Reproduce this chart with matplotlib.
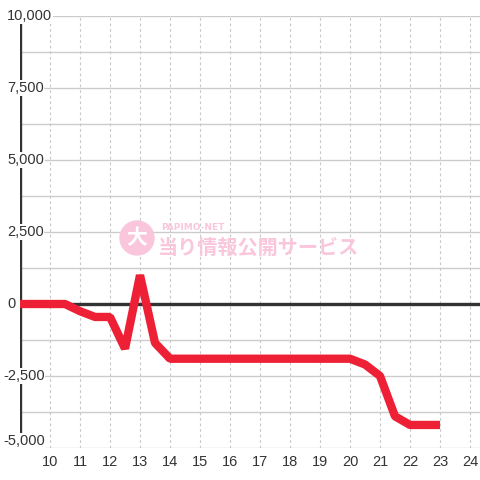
import matplotlib.pyplot as plt
from matplotlib.patches import Circle

hours = [9, 9.5, 10, 10.5, 11, 11.5, 12, 12.5, 13, 13.5, 14, 14.5, 15, 15.5, 16,
         16.5, 17, 17.5, 18, 18.5, 19, 19.5, 20, 20.5, 21, 21.5, 22, 22.5, 23]
balance = [0, 0, 0, 0, -250, -450, -450, -1550, 1000, -1350, -1900, -1900, -1900, -1900, -1900,
           -1900, -1900, -1900, -1900, -1900, -1900, -1900, -1900, -2100, -2500, -3900, -4200, -4200, -4200]

y_ticks = [10000, 7500, 5000, 2500, 0, -2500, -5000]
y_labels = ["10,000", "7,500", "5,000", "2,500", "0", "-2,500", "-5,000"]
x_ticks = list(range(10, 25))

plt.rcParams['font.family'] = ['Liberation Sans', 'DejaVu Sans']

fig = plt.figure(figsize=(4.8, 4.8), dpi=100)
ax = fig.add_axes([20/480, 32/480, 460/480, 432/480])
ax.set_xlim(9, 24.333)
ax.set_ylim(-5000, 10000)

for s in ax.spines.values():
    s.set_visible(False)
ax.set_yticks([])
ax.set_xticks(x_ticks)
ax.set_xticklabels([str(t) for t in x_ticks], fontsize=10.5, color='#333333')
ax.tick_params(axis='x', length=0, pad=5)

# grid
for y in range(-5000, 10001, 1250):
    ax.axhline(y, color='#cccccc', lw=1, zorder=1)
for x in x_ticks:
    ax.axvline(x, color='#c8c8c8', lw=0.8, ls=(0, (2.5, 2.5)), zorder=1)

# watermark
wm_color = '#f9c6dc'
ax.add_patch(Circle((137, 480 - 238), 17, transform=None, color=wm_color, zorder=2))
fig.text(137/480, 1 - 238/480, "大", ha='center', va='center', color='white', fontsize=15,
         fontweight='bold', family=['Noto Sans CJK JP'], zorder=3)
fig.text(161/480, 1 - 227/480, "PAPIMO-NET", ha='left', va='center', color=wm_color,
         fontsize=6.5, fontweight='bold', family=['DejaVu Sans'])
fig.text(158/480, 1 - 247/480, "当り情報公開サービス", ha='left', va='center', color=wm_color,
         fontsize=14.5, fontweight='bold', family=['Noto Sans CJK JP'])

# zero line and y axis
ax.axhline(0, color='#333333', lw=2.4, zorder=3)
ax.axvline(9, color='#333333', lw=2.4, zorder=3)

ax.plot(hours, balance, color='#ee2036', lw=6, solid_joinstyle='bevel',
        solid_capstyle='butt', zorder=4, clip_on=False)

for v, lab in zip(y_ticks, y_labels):
    xpos = (3 - 20) / 460 if lab.startswith('-') else (7 - 20) / 460
    va = 'bottom' if v == -5000 else 'center'
    ax.text(xpos, v, lab, transform=ax.get_yaxis_transform(), ha='left', va=va,
            fontsize=10.5, color='#333333', zorder=5, clip_on=False,
            bbox=dict(facecolor='white', edgecolor='none', pad=0.5))

fig.savefig('out.png', dpi=100)
